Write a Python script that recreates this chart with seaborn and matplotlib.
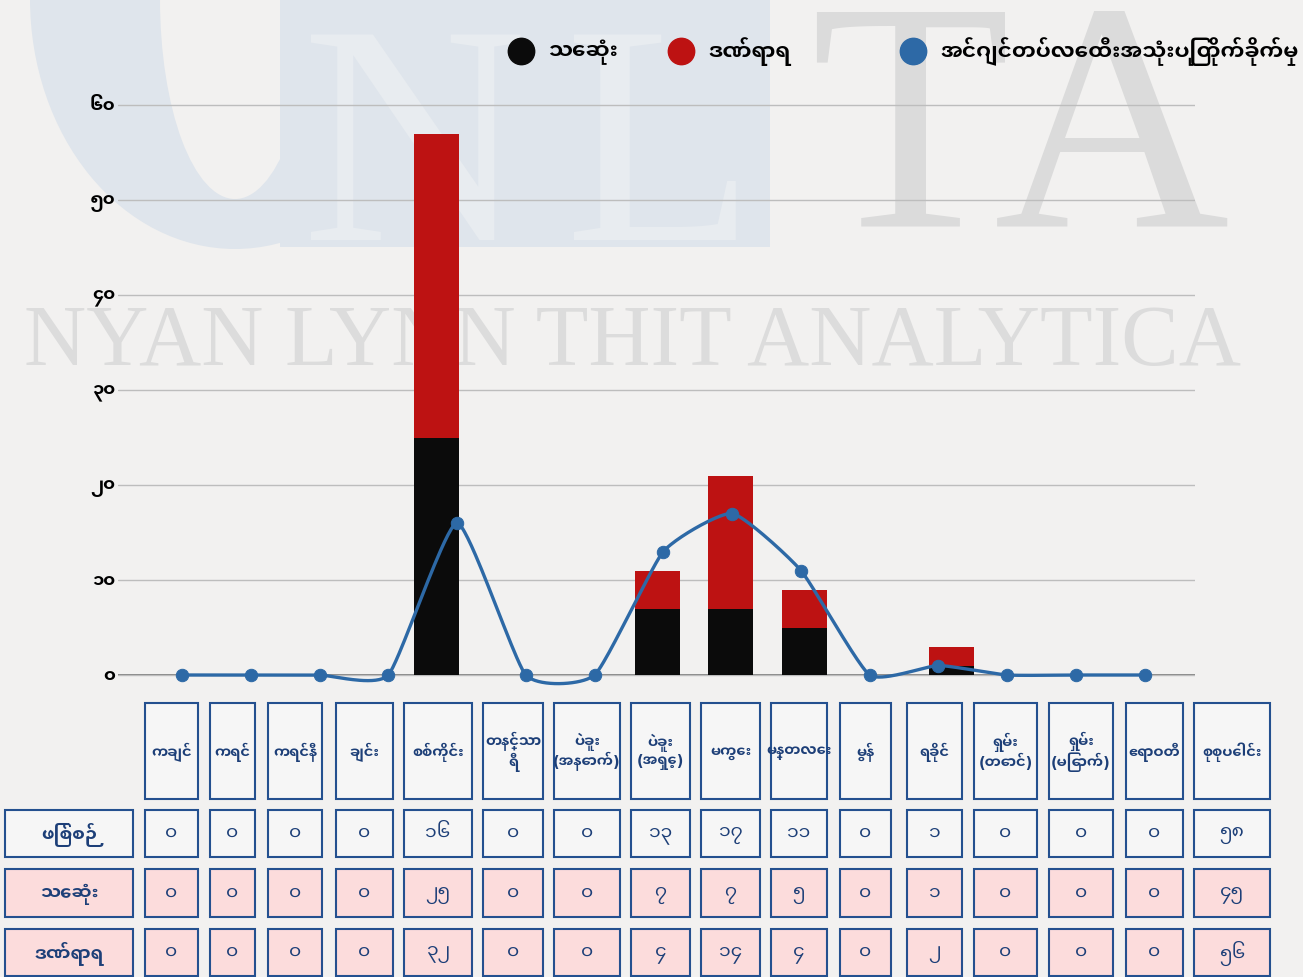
import numpy as np
import pandas as pd
import matplotlib
matplotlib.use("Agg")
import matplotlib.pyplot as plt
import seaborn as sns
from matplotlib.patches import Rectangle, Ellipse

# ---------------- data ----------------
regions = ["ကချင်", "ကရင်", "ကရင်နီ", "ချင်း", "စစ်ကိုင်း", "တနင်္သာ\nရီ",
           "ပဲခူး\n(အနောက်)", "ပဲခူး\n(အရှေ့)", "မကွေး", "မန္တလေး", "မွန်",
           "ရခိုင်", "ရှမ်း\n(တောင်)", "ရှမ်း\n(မြောက်)", "ဧရာဝတီ"]
total_label = "စုစုပေါင်း"
row_labels = ["ဖြစ်စဉ်", "သေဆုံး", "ဒဏ်ရာရ"]
legend_labels = ["သေဆုံး", "ဒဏ်ရာရ", "အင်ဂျင်တပ်လေထီးအသုံးပြုတိုက်ခိုက်မှု"]

incidents = [0, 0, 0, 0, 16, 0, 0, 13, 17, 11, 0, 1, 0, 0, 0]
deaths = [0, 0, 0, 0, 25, 0, 0, 7, 7, 5, 0, 1, 0, 0, 0]
injured = [0, 0, 0, 0, 32, 0, 0, 4, 14, 4, 0, 2, 0, 0, 0]
y_ticks = [0, 10, 20, 30, 40, 50, 60]

MM_DIGITS = str.maketrans("0123456789", "၀၁၂၃၄၅၆၇၈၉")


def mm(n):
    # western digits -> Myanmar digits
    return str(n).translate(MM_DIGITS)


df = pd.DataFrame({"region": regions, "deaths": deaths, "injured": injured,
                   "incidents": incidents})
df["total"] = df["deaths"] + df["injured"]

# ---------------- style ----------------
sns.set_style("white")
FONT = ["Noto Sans Myanmar UI", "DejaVu Sans"]
plt.rcParams["font.family"] = FONT

BG = "#f2f1f0"
BLACK = "#0b0b0b"
RED = "#bd1212"
BLUE = "#2d69a6"
NAVY = "#1d3f78"
EDGE = "#24508f"
PINK = "#fcdcdc"

W, H = 1303, 978
fig = plt.figure(figsize=(W / 100, H / 100), dpi=100, facecolor=BG)

# pixel-space layer for the watermark (behind everything)
bg = fig.add_axes([0, 0, 1, 1], zorder=0)
bg.set_xlim(0, W)
bg.set_ylim(H, 0)
bg.axis("off")
WM_BLUE = "#dfe5ec"
bg.add_patch(Ellipse((235, 0), 410, 500, color=WM_BLUE, lw=0))
bg.add_patch(Ellipse((235, 0), 150, 400, color=BG, lw=0))
bg.add_patch(Rectangle((280, 0), 490, 248, color=WM_BLUE, lw=0))
bg.text(415, 240, "N", family="Liberation Serif", fontsize=225, color="#e8ecf0",
        ha="center", va="baseline")
bg.text(660, 240, "L", family="Liberation Serif", fontsize=225, color="#e8ecf0",
        ha="center", va="baseline")
bg.text(910, 226, "T", family="Liberation Serif", fontsize=235, color="#dbdbdb",
        ha="center", va="baseline")
bg.text(1112, 226, "A", family="Liberation Serif", fontsize=235, color="#dbdbdb",
        ha="center", va="baseline")
bg.text(632, 365, "NYAN LYNN THIT ANALYTICA", family="Liberation Serif",
        fontsize=62, color="#dcdcdc", ha="center", va="baseline")

# ---------------- stacked bars ----------------
ax_rect = [118 / W, 1 - 695 / H, (1195 - 118) / W, (695 - 96.5) / H]
ax = fig.add_axes(ax_rect, zorder=1)
ax.set_facecolor("none")
sns.barplot(data=df, x="region", y="total", order=regions, color=RED,
            saturation=1, width=0.61, linewidth=0, ax=ax)
sns.barplot(data=df, x="region", y="deaths", order=regions, color=BLACK,
            saturation=1, width=0.61, linewidth=0, ax=ax)
ax.set_xlim(-0.33, 14.31)
ax.set_ylim(-2, 61)
ax.set_yticks(y_ticks)
ax.set_yticklabels([mm(v) for v in y_ticks], fontsize=13, fontweight="bold",
                   color="black")
ax.tick_params(axis="y", length=0, pad=2)
ax.set_xticks([])
ax.set_xlabel("")
ax.set_ylabel("")
ax.set_axisbelow(True)
ax.yaxis.grid(True, color="#bdbdbd", lw=1)
ax.axhline(0, color="#6f6f6f", lw=1.2, zorder=0.5)
for s in ax.spines.values():
    s.set_visible(False)

# ---------------- smoothed incidents line ----------------
ax2 = fig.add_axes(ax_rect, zorder=2)
ax2.set_facecolor("none")
pts = np.column_stack([np.arange(len(incidents)), incidents]).astype(float)
t = np.linspace(0, 1, 40)[:, None]
h00 = 2 * t**3 - 3 * t**2 + 1
h10 = t**3 - 2 * t**2 + t
h01 = -2 * t**3 + 3 * t**2
h11 = t**3 - t**2
curve = []
n = len(pts)
for i in range(n - 1):
    p0 = pts[max(i - 1, 0)]
    p1 = pts[i]
    p2 = pts[i + 1]
    p3 = pts[min(i + 2, n - 1)]
    m1 = 0.25 * (p2 - p0)
    m2 = 0.25 * (p3 - p1)
    seg = h00 * p1 + h10 * m1 + h01 * p2 + h11 * m2
    curve.append(seg if i == n - 2 else seg[:-1])
curve = np.vstack(curve)
sns.lineplot(x=curve[:, 0], y=curve[:, 1], sort=False, estimator=None,
             color=BLUE, lw=2.4, ax=ax2)
sns.scatterplot(x=np.arange(len(incidents)), y=incidents, color=BLUE,
                edgecolor=BLUE, s=80, ax=ax2, zorder=3)
ax2.set_xlim(-0.93, 14.73)
ax2.set_ylim(-2, 61)
ax2.axis("off")

# ---------------- legend + table (pixel layer on top) ----------------
fg = fig.add_axes([0, 0, 1, 1], zorder=3)
fg.set_facecolor("none")
fg.set_xlim(0, W)
fg.set_ylim(H, 0)
fg.axis("off")

for xm, col, lab in zip([521, 681, 913], [BLACK, RED, BLUE], legend_labels):
    fg.plot([xm], [52], "o", ms=19, color=col, mec=col)
    fg.text(xm + 27, 52, lab, fontsize=15.5, fontweight="bold", color="black",
            ha="left", va="center")

col_x = [(145, 198), (210, 255), (268, 322), (336, 393), (404, 472), (483, 543),
         (554, 620), (631, 690), (701, 760), (771, 827), (840, 891), (907, 962),
         (974, 1037), (1049, 1113), (1126, 1183), (1194, 1270)]
head_y = (704, 800)
row_y = [(811, 858), (870, 918), (930, 977)]
row_fill = ["#f6f6f6", PINK, PINK]


def cell(x0, x1, y0, y1, fill, text, size, weight):
    fg.add_patch(Rectangle((x0, y0), x1 - x0, y1 - y0, facecolor=fill,
                           edgecolor=EDGE, lw=1.5))
    fg.text((x0 + x1) / 2, (y0 + y1) / 2, text, fontsize=size, fontweight=weight,
            color=NAVY, ha="center", va="center", multialignment="center",
            linespacing=1.1)


for (x0, x1), lab in zip(col_x, regions + [total_label]):
    cell(x0, x1, head_y[0], head_y[1], "#f6f6f6", lab, 10.5, "bold")

table_rows = [incidents, deaths, injured]
for (y0, y1), fill, lab, vals in zip(row_y, row_fill, row_labels, table_rows):
    cell(5, 133, y0, y1, fill, lab, 13, "bold")
    for (x0, x1), v in zip(col_x, list(vals) + [sum(vals)]):
        cell(x0, x1, y0, y1, fill, mm(v), 13.5, "normal")

fig.savefig("out.png", dpi=100, facecolor=BG)
